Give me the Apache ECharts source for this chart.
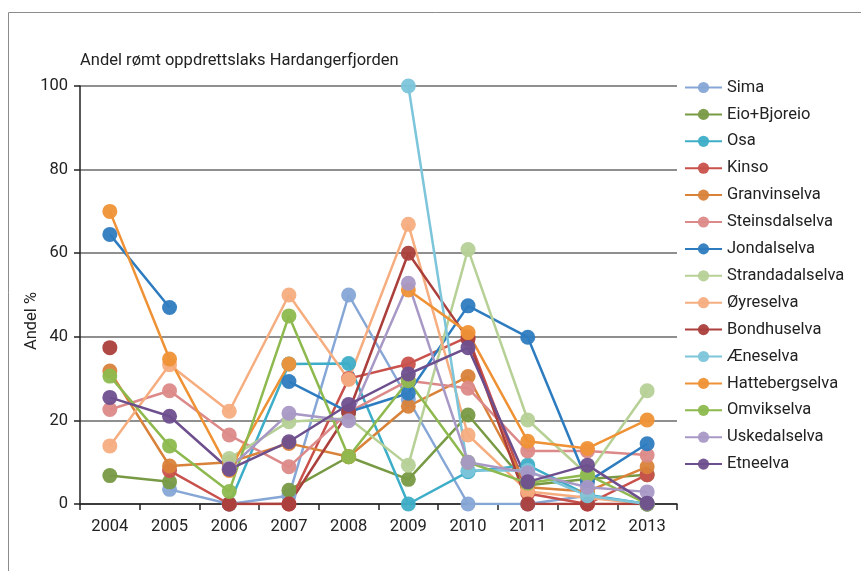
<!DOCTYPE html>
<html>
<head>
<meta charset="utf-8">
<script src="https://cdn.jsdelivr.net/npm/echarts@6/dist/echarts.min.js"></script>
<style>
  html, body { margin: 0; padding: 0; background: #fff; }
  #chart { width: 861px; height: 571px; }
</style>
</head>
<body>
<div id="chart"></div>
<script>
// years on the x axis
const years = ['2004', '2005', '2006', '2007', '2008', '2009', '2010', '2011', '2012', '2013'];

// share of escaped farmed salmon per river (%), null = no data
const sima           = [null, 3.5, 0, 2, 50, 25, 0, 0, 2, 0];
const eioBjoreio     = [6.8, 5.3, null, 3.3, 11.3, 5.9, 21.3, 4.5, 6, 7];
const osa            = [null, null, 0, 33.5, 33.6, 0, 7.7, 9.3, 2.2, 0];
const kinso          = [null, 8, 0, 0, 30, 33.5, 40, 2.5, 0, 7];
const granvinselva   = [31.8, 9.1, 10, 14.5, 11.3, 23.4, 30.5, 4, 3, 8.9];
const steinsdalselva = [22.6, 27.1, 16.5, 8.9, 22, 29.5, 27.7, 12.7, 12.7, 11.7];
const jondalselva    = [64.5, 47, null, 29.3, 22, 26.5, 47.4, 39.9, 5.3, 14.4];
const strandadal     = [null, null, 10.9, 19.7, 20.5, 9.3, 60.9, 20.1, 7, 27.1];
const oyreselva      = [13.9, 33.3, 22.2, 50, 29.8, 66.9, 16.5, 3, 1.5, 0];
const bondhuselva    = [37.4, null, 0, 0, 22, 60, 39.5, 0, 0, 0];
const aeneselva      = [null, null, null, null, null, 100, 8, 8, 2, 0];
const hattebergselva = [70, 34.7, 8, 33.5, null, 51.2, 41, 15, 13.3, 20.1];
const omvikselva     = [30.6, 13.9, 3, 45, 11.3, 29.5, 10, 5, 7, 0];
const uskedalselva   = [null, null, 8.5, 21.7, 19.9, 52.8, 10, 7.5, 4, 2.9];
const etneelva       = [25.5, 21, 8.3, 14.9, 23.8, 31.1, 37.4, 5.3, 9.3, 0.2];

const yTicks = [0, 20, 40, 60, 80, 100];

const rivers = [
  ['Sima', sima, '#86a7d6'],
  ['Eio+Bjoreio', eioBjoreio, '#789a44'],
  ['Osa', osa, '#3eaec8'],
  ['Kinso', kinso, '#c9514c'],
  ['Granvinselva', granvinselva, '#d9823a'],
  ['Steinsdalselva', steinsdalselva, '#dc8a89'],
  ['Jondalselva', jondalselva, '#2e7cc0'],
  ['Strandadalselva', strandadal, '#b6d096'],
  ['Øyreselva', oyreselva, '#f6ad7f'],
  ['Bondhuselva', bondhuselva, '#ab3f3c'],
  ['Æneselva', aeneselva, '#7cc5da'],
  ['Hattebergselva', hattebergselva, '#ef9236'],
  ['Omvikselva', omvikselva, '#8db94e'],
  ['Uskedalselva', uskedalselva, '#a898c6'],
  ['Etneelva', etneelva, '#6e4f8e']
];

const font = 'Roboto, "Noto Sans", sans-serif';
const chart = echarts.init(document.getElementById('chart'));

chart.setOption({
  animation: false,
  backgroundColor: '#fff',
  textStyle: { fontFamily: font },
  graphic: [
    // outer frame (only top and left edges fall inside the picture)
    {
      type: 'rect',
      shape: { x: 8.5, y: 12.5, width: 900, height: 700 },
      style: { fill: 'none', stroke: '#8c8c8c', lineWidth: 1 }
    },
    {
      type: 'text',
      left: 80,
      top: 52,
      style: { text: 'Andel rømt oppdrettslaks Hardangerfjorden', fill: '#222', font: '16.5px ' + font }
    },
    {
      type: 'text',
      left: 23,
      top: 292,
      rotation: Math.PI / 2,
      style: { text: 'Andel %', fill: '#222', font: '16.5px ' + font, align: 'center', verticalAlign: 'middle' }
    }
  ],
  grid: { left: 80, right: 184, top: 86, bottom: 67 },
  legend: {
    orient: 'vertical',
    left: 679,
    top: 74,
    itemWidth: 37,
    itemHeight: 14,
    itemGap: 9.9,
    textStyle: { fontSize: 16.5, color: '#222', fontFamily: font },
    data: rivers.map(r => r[0])
  },
  xAxis: {
    type: 'category',
    data: years,
    boundaryGap: true,
    axisLine: { lineStyle: { color: '#222', width: 1.5 } },
    axisTick: { show: true, length: 6, lineStyle: { color: '#222', width: 1.5 } },
    axisLabel: { fontSize: 16.5, color: '#222', margin: 14 }
  },
  yAxis: {
    type: 'value',
    min: yTicks[0],
    max: yTicks[yTicks.length - 1],
    interval: yTicks[1] - yTicks[0],
    axisLine: { show: true, lineStyle: { color: '#222', width: 1.5 } },
    axisTick: { show: true, length: 6, lineStyle: { color: '#222', width: 1.5 } },
    axisLabel: { fontSize: 16.5, color: '#222', margin: 12 },
    splitLine: { lineStyle: { color: '#6a6a6a', width: 1.5 } }
  },
  series: rivers.map(([name, data, color]) => ({
    name: name,
    type: 'line',
    data: data,
    connectNulls: false,
    symbol: 'circle',
    symbolSize: 15,
    color: color,
    lineStyle: { width: 2.5, color: color },
    itemStyle: { color: color, opacity: 0.95 }
  }))
});
</script>
</body>
</html>
